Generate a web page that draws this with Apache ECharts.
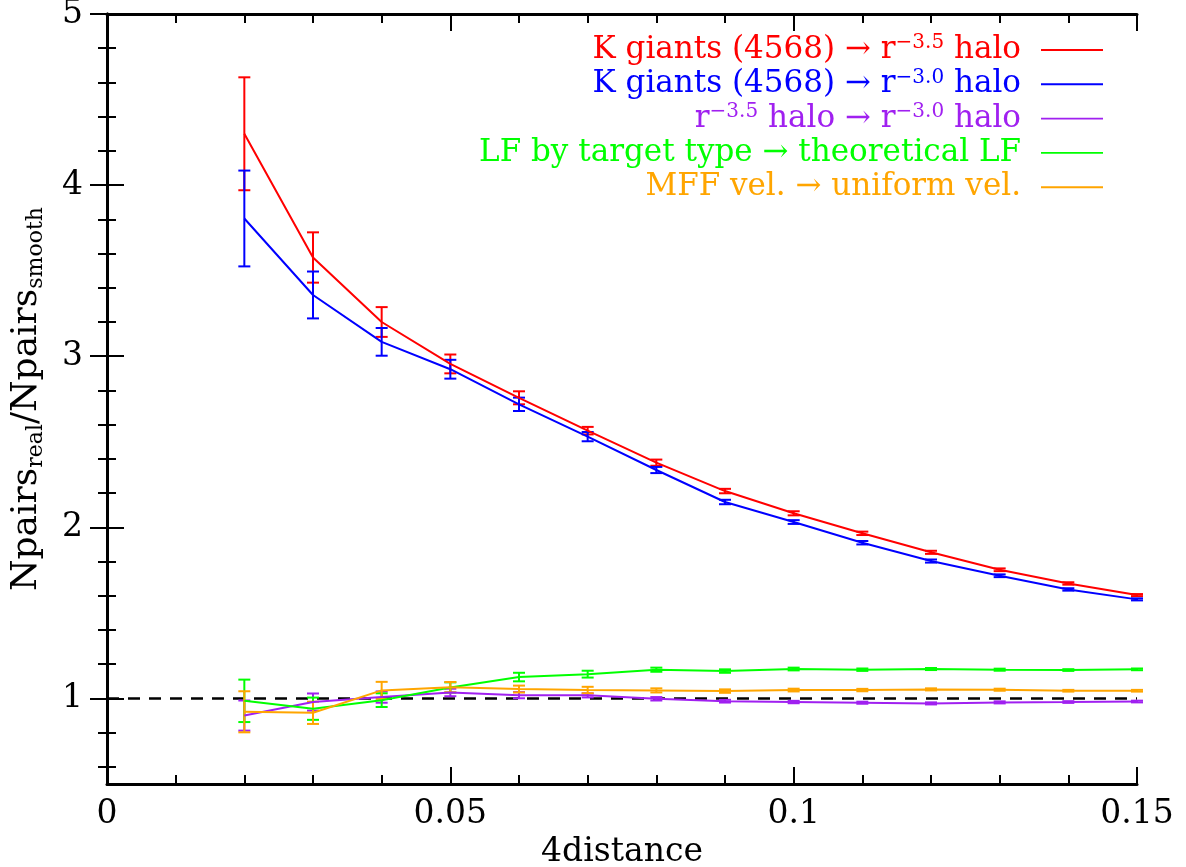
<!DOCTYPE html>
<html>
<head>
<meta charset="utf-8">
<script src="https://cdn.jsdelivr.net/npm/echarts@6/dist/echarts.min.js"></script>
<style>
html,body{margin:0;padding:0;background:#fff;}
#chart{width:1186px;height:867px;}
</style>
</head>
<body>
<div id="chart"></div>
<script>
// ---- data ----
var xValues = [0.02, 0.03, 0.04, 0.05, 0.06, 0.07, 0.08, 0.09, 0.10, 0.11, 0.12, 0.13, 0.14, 0.15];

var redY   = [4.30, 3.577, 3.20, 2.955, 2.757, 2.565, 2.378, 2.212, 2.082, 1.965, 1.854, 1.752, 1.672, 1.604];
var redErr = [0.33, 0.147, 0.087, 0.055, 0.038, 0.022, 0.018, 0.013, 0.012, 0.010, 0.009, 0.008, 0.007, 0.006];

var blueY   = [3.805, 3.358, 3.084, 2.924, 2.719, 2.530, 2.335, 2.148, 2.031, 1.910, 1.803, 1.717, 1.637, 1.579];
var blueErr = [0.28, 0.137, 0.081, 0.055, 0.039, 0.027, 0.018, 0.013, 0.011, 0.010, 0.009, 0.008, 0.007, 0.006];

var purpleY   = [0.900, 0.979, 1.008, 1.035, 1.019, 1.018, 0.998, 0.984, 0.979, 0.975, 0.971, 0.977, 0.979, 0.982];
var purpleErr = [0.088, 0.050, 0.033, 0.022, 0.018, 0.012, 0.010, 0.008, 0.007, 0.006, 0.006, 0.006, 0.005, 0.005];

var greenY   = [0.986, 0.940, 0.990, 1.064, 1.125, 1.142, 1.168, 1.160, 1.172, 1.168, 1.172, 1.168, 1.166, 1.170];
var greenErr = [0.124, 0.065, 0.040, 0.030, 0.025, 0.020, 0.012, 0.010, 0.008, 0.007, 0.006, 0.006, 0.005, 0.005];

var orangeY   = [0.922, 0.916, 1.047, 1.066, 1.055, 1.049, 1.047, 1.043, 1.049, 1.049, 1.053, 1.051, 1.045, 1.045];
var orangeErr = [0.120, 0.065, 0.050, 0.030, 0.020, 0.019, 0.012, 0.010, 0.008, 0.007, 0.006, 0.006, 0.005, 0.005];

var referenceLevel = 1;

var xMajorTicks = [0, 0.05, 0.1, 0.15];
var xTickLabels = ['0', '0.05', '0.1', '0.15'];
var xMinorTicks = [0.01, 0.02, 0.03, 0.04, 0.06, 0.07, 0.08, 0.09, 0.11, 0.12, 0.13, 0.14];
var yMajorTicks = [1, 2, 3, 4, 5];
var yTickLabels = ['1', '2', '3', '4', '5'];
var yMinorTicks = [0.6, 0.8, 1.2, 1.4, 1.6, 1.8, 2.2, 2.4, 2.6, 2.8, 3.2, 3.4, 3.6, 3.8, 4.2, 4.4, 4.6, 4.8];

var seriesNames = ['K giants (4568) → r-3.5 halo', 'K giants (4568) → r-3.0 halo', 'r-3.5 halo → r-3.0 halo', 'LF by target type → theoretical LF', 'MFF vel. → uniform vel.'];
// legend pieces: [text, superscript, text, superscript, text]
var legendParts = [
  ['K giants (4568) → r', '−3.5', ' halo', '', ''],
  ['K giants (4568) → r', '−3.0', ' halo', '', ''],
  ['r', '−3.5', ' halo → r', '−3.0', ' halo'],
  ['LF by target type → theoretical LF', '', '', '', ''],
  ['MFF vel. → uniform vel.', '', '', '', '']
];
var seriesKeys = ['red', 'blue', 'purple', 'green', 'orange'];
var seriesColors = ['#ff0000', '#0000ff', '#a020f0', '#00ff00', '#ffa500'];

// ---- build ----
var FONT = 'DejaVu Serif';
var allY = [redY, blueY, purpleY, greenY, orangeY];
var allErr = [redErr, blueErr, purpleErr, greenErr, orangeErr];

function pairs(ys) { return xValues.map(function (x, i) { return [x, ys[i]]; }); }
function errData(ys, es) { return xValues.map(function (x, i) { return [x, ys[i] - es[i], ys[i] + es[i]]; }); }

function errRender(color) {
  return function (params, api) {
    var x = api.value(0);
    var lo = api.coord([x, api.value(1)]);
    var hi = api.coord([x, api.value(2)]);
    var half = 6;
    var st = { stroke: color, lineWidth: 2 };
    return {
      type: 'group',
      children: [
        { type: 'line', shape: { x1: lo[0], y1: lo[1], x2: hi[0], y2: hi[1] }, style: st },
        { type: 'line', shape: { x1: lo[0] - half, y1: lo[1], x2: lo[0] + half, y2: lo[1] }, style: st },
        { type: 'line', shape: { x1: hi[0] - half, y1: hi[1], x2: hi[0] + half, y2: hi[1] }, style: st }
      ]
    };
  };
}

var rich = { gp: { width: 15, fontSize: 31, lineHeight: 34 } };
seriesKeys.forEach(function (k, i) {
  rich[k + 'n'] = { color: seriesColors[i], fontFamily: FONT, fontSize: 31, lineHeight: 34 };
  rich[k + 's'] = { color: seriesColors[i], fontFamily: FONT, fontSize: 20, lineHeight: 14, padding: [0, 0, 14, 0] };
});

var series = [];
seriesKeys.forEach(function (k, i) {
  var s = {
    name: seriesNames[i],
    type: 'line',
    data: pairs(allY[i]),
    symbol: 'none',
    color: seriesColors[i],
    lineStyle: { width: 2, color: seriesColors[i] },
    z: 3,
    animation: false
  };
  if (i === 0) {
    s.markLine = {
      silent: true,
      symbol: ['none', 'none'],
      label: { show: false },
      lineStyle: { color: '#000', type: [12, 9], width: 2.5 },
      data: [{ yAxis: referenceLevel }],
      z: 2
    };
  }
  series.push(s);
  series.push({
    name: seriesNames[i],
    type: 'custom',
    data: errData(allY[i], allErr[i]),
    renderItem: errRender(seriesColors[i]),
    z: 3,
    animation: false,
    encode: { x: 0, y: [1, 2] }
  });
});

var axLine = { show: true, lineStyle: { color: '#000', width: 3 } };
function xAx(pos, ticks, len, showLine, labels) {
  return {
    type: 'value', min: 0, max: 0.15, position: pos, gridIndex: 0,
    axisLine: showLine ? axLine : { show: false },
    axisTick: { show: true, inside: true, length: len, customValues: ticks, lineStyle: { color: '#000', width: 2 } },
    axisLabel: labels ? {
      show: true, customValues: xMajorTicks, margin: 14, color: '#000', fontFamily: FONT, fontSize: 33,
      formatter: function (v) { var i = xMajorTicks.indexOf(v); return i >= 0 ? xTickLabels[i] : ''; }
    } : { show: false },
    splitLine: { show: false }
  };
}
function yAx(pos, ticks, len, showLine, labels) {
  return {
    type: 'value', min: 0.5, max: 5, position: pos, gridIndex: 0,
    axisLine: showLine ? axLine : { show: false },
    axisTick: { show: true, inside: true, length: len, customValues: ticks, lineStyle: { color: '#000', width: 2 } },
    axisLabel: labels ? {
      show: true, customValues: yMajorTicks, margin: 24, color: '#000', fontFamily: FONT, fontSize: 33,
      formatter: function (v) { var i = yMajorTicks.indexOf(v); return i >= 0 ? yTickLabels[i] : ''; }
    } : { show: false },
    splitLine: { show: false }
  };
}

var xAxes = [xAx('bottom', xMajorTicks, 17, true, true), xAx('bottom', xMinorTicks, 9, false, false),
             xAx('top', xMajorTicks, 17, true, false), xAx('top', xMinorTicks, 9, false, false)];
xAxes[0].name = '4distance';
xAxes[0].nameLocation = 'middle';
xAxes[0].nameGap = 46;
xAxes[0].nameTextStyle = { color: '#000', fontFamily: FONT, fontSize: 33 };

var yAxes = [yAx('left', yMajorTicks, 17, true, true), yAx('left', yMinorTicks, 9, false, false),
             yAx('right', yMajorTicks, 17, true, false), yAx('right', yMinorTicks, 9, false, false)];
yAxes[0].name = '{n|Npairs}{s|real}{n|/Npairs}{s|smooth}';
yAxes[0].nameLocation = 'middle';
yAxes[0].nameGap = 60;
yAxes[0].nameTextStyle = {
  color: '#000',
  rich: {
    n: { color: '#000', fontFamily: FONT, fontSize: 36, lineHeight: 40 },
    s: { color: '#000', fontFamily: FONT, fontSize: 22, lineHeight: 18, padding: [18, 0, 0, 0] }
  }
};

var option = {
  backgroundColor: '#fff',
  animation: false,
  grid: { left: 107, right: 49, top: 14, bottom: 83, containLabel: false, outerBoundsMode: 'none' },
  xAxis: xAxes,
  yAxis: yAxes,
  legend: {
    show: true,
    orient: 'vertical',
    right: 78,
    top: 28,
    align: 'right',
    itemWidth: 62,
    itemHeight: 2,
    itemGap: 0.3,
    selectedMode: false,
    data: seriesNames.map(function (n) { return { name: n, icon: 'path://M0,0 L100,0 L100,3 L0,3 Z' }; }),
    textStyle: { rich: rich, lineHeight: 34, fontSize: 31 },
    formatter: function (name) {
      var i = seriesNames.indexOf(name);
      var k = seriesKeys[i];
      var p = legendParts[i];
      var out = '';
      if (p[0]) out += '{' + k + 'n|' + p[0] + '}';
      if (p[1]) out += '{' + k + 's|' + p[1] + '}';
      if (p[2]) out += '{' + k + 'n|' + p[2] + '}';
      if (p[3]) out += '{' + k + 's|' + p[3] + '}';
      if (p[4]) out += '{' + k + 'n|' + p[4] + '}';
      return out + '{gp| }';
    }
  },
  series: series
};

var chart = echarts.init(document.getElementById('chart'), null, { renderer: 'canvas' });
chart.setOption(option);
</script>
</body>
</html>
